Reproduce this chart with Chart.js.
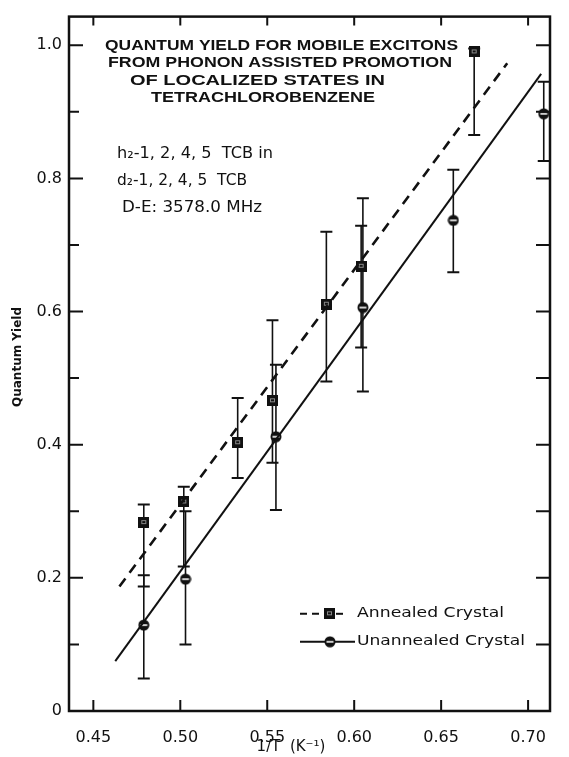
<!DOCTYPE html>
<html><head><meta charset="utf-8">
<script src="https://cdn.jsdelivr.net/npm/chart.js@4.4.1/dist/chart.umd.min.js"></script>
<style>html,body{margin:0;padding:0;background:#fff}</style>
</head><body>
<canvas id="c" width="569" height="757"></canvas>
<script>
// ---- data ----
const annealedX  = [0.479, 0.502, 0.533, 0.553, 0.584, 0.604, 0.669];
const annealedY  = [0.283, 0.314, 0.403, 0.466, 0.611, 0.668, 0.990];
const annealedLo = [0.187, 0.217, 0.350, 0.373, 0.495, 0.546, 0.865];
const annealedHi = [0.310, 0.337, 0.470, 0.587, 0.720, 0.729, 0.995];

const unannealedX  = [0.479, 0.503, 0.555, 0.605, 0.657, 0.709];
const unannealedY  = [0.129, 0.198, 0.412, 0.606, 0.737, 0.897];
const unannealedLo = [0.049, 0.100, 0.302, 0.480, 0.659, 0.826];
const unannealedHi = [0.204, 0.300, 0.520, 0.770, 0.813, 0.945];

const fitAnnealedX   = [0.465, 0.688];
const fitAnnealedY   = [0.187, 0.973];
const fitUnannealedX = [0.4626, 0.7075];
const fitUnannealedY = [0.075, 0.957];

const xTicks = [0.45, 0.50, 0.55, 0.60, 0.65, 0.70];
const yTicks = [0, 0.2, 0.4, 0.6, 0.8, 1.0];
const yMinorTicks = [0.1, 0.3, 0.5, 0.7, 0.9];
const rightTicks = [0.1, 0.2, 0.3, 0.4, 0.5, 0.6, 0.7, 0.8, 0.9, 1.0];

const titleLines = ['QUANTUM YIELD FOR MOBILE EXCITONS', 'FROM PHONON ASSISTED PROMOTION', 'OF LOCALIZED STATES IN', 'TETRACHLOROBENZENE'];
const noteLines = ['h\u2082-1, 2, 4, 5  TCB in', 'd\u2082-1, 2, 4, 5  TCB', 'D-E: 3578.0 MHz'];
const legendLabels = ['Annealed Crystal', 'Unannealed Crystal'];
const xTitle = '1/T  (K\u207B\u00B9)';
const yTitle = 'Quantum Yield';

// ---- marker images ----
function squareImg(){
  const c = document.createElement('canvas'); c.width = 11; c.height = 11;
  const g = c.getContext('2d');
  g.fillStyle = '#111'; g.fillRect(0,0,11,11);
  g.fillStyle = '#888'; g.fillRect(3,3,5,4);
  g.fillStyle = '#111'; g.fillRect(4,4,3,2);
  return c;
}
function circleImg(){
  const c = document.createElement('canvas'); c.width = 12; c.height = 12;
  const g = c.getContext('2d');
  g.fillStyle = '#111'; g.beginPath(); g.arc(6,6,5.5,0,Math.PI*2); g.fill();
  g.strokeStyle = '#fff'; g.lineWidth = 1.6; g.beginPath(); g.moveTo(2.5,6); g.lineTo(9.5,6); g.stroke();
  return c;
}
const SQ = squareImg(), CI = circleImg();

const ink = '#111';

const errorBars = {
  id: 'errorBars',
  beforeDatasetsDraw(chart){
    const {ctx, scales:{x, y}} = chart;
    ctx.save();
    ctx.strokeStyle = ink;
    const draw = (xs, lo, hi) => {
      xs.forEach((xv, i) => {
        const px = x.getPixelForValue(xv);
        const p1 = y.getPixelForValue(lo[i]), p2 = y.getPixelForValue(hi[i]);
        ctx.lineWidth = 1.6;
        ctx.beginPath(); ctx.moveTo(px, p1); ctx.lineTo(px, p2); ctx.stroke();
        ctx.lineWidth = 2;
        ctx.beginPath(); ctx.moveTo(px-6, p1); ctx.lineTo(px+6, p1);
        ctx.moveTo(px-6, p2); ctx.lineTo(px+6, p2); ctx.stroke();
      });
    };
    draw(annealedX, annealedLo, annealedHi);
    draw(unannealedX, unannealedLo, unannealedHi);
    ctx.restore();
  }
};

function fitText(ctx, text, x, y, w){
  const m = ctx.measureText(text).width;
  ctx.save();
  ctx.translate(x, y);
  ctx.scale(w / m, 1);
  ctx.fillText(text, 0, 0);
  ctx.restore();
}

const frame = {
  id: 'frame',
  afterDraw(chart){
    const {ctx, chartArea:a, scales:{x, y}} = chart;
    ctx.save();
    ctx.strokeStyle = ink; ctx.lineWidth = 2.5;
    ctx.strokeRect(a.left, a.top, a.right - a.left, a.bottom - a.top);
    ctx.lineWidth = 2;
    ctx.beginPath();
    xTicks.forEach(v => {
      const px = x.getPixelForValue(v);
      ctx.moveTo(px, a.bottom); ctx.lineTo(px, a.bottom - 11);
      ctx.moveTo(px, a.top); ctx.lineTo(px, a.top + 9);
    });
    yTicks.forEach(v => {
      const py = y.getPixelForValue(v);
      if (v > 0) { ctx.moveTo(a.left, py); ctx.lineTo(a.left + 14, py); }
    });
    yMinorTicks.forEach(v => {
      const py = y.getPixelForValue(v);
      ctx.moveTo(a.left, py); ctx.lineTo(a.left + 10, py);
    });
    rightTicks.forEach(v => {
      const py = y.getPixelForValue(v);
      ctx.moveTo(a.right, py); ctx.lineTo(a.right - 14, py);
    });
    ctx.stroke();

    // title block
    ctx.fillStyle = ink; ctx.textBaseline = 'middle'; ctx.textAlign = 'left';
    ctx.font = 'bold 15px "Liberation Sans"';
    fitText(ctx, titleLines[0], 105, 46, 353);
    ctx.font = 'bold 14px "Liberation Sans"';
    fitText(ctx, titleLines[1], 108, 63, 344);
    fitText(ctx, titleLines[2], 130, 81, 255);
    fitText(ctx, titleLines[3], 151, 98, 224);

    // notes
    ctx.font = '15px "DejaVu Sans"';
    fitText(ctx, noteLines[0], 117, 154, 156);
    fitText(ctx, noteLines[1], 117, 181, 130);
    fitText(ctx, noteLines[2], 122, 208, 140);

    // legend
    ctx.lineWidth = 2;
    let ly = y.getPixelForValue(0.146);
    ctx.setLineDash([7,5]);
    ctx.beginPath(); ctx.moveTo(300, ly); ctx.lineTo(322, ly); ctx.stroke();
    ctx.setLineDash([]);
    ctx.beginPath(); ctx.moveTo(336, ly); ctx.lineTo(343, ly); ctx.stroke();
    ctx.drawImage(SQ, 324, ly - 5.5);
    ctx.font = '14px "DejaVu Sans"';
    fitText(ctx, legendLabels[0], 357, ly, 147);
    ly = y.getPixelForValue(0.104);
    ctx.beginPath(); ctx.moveTo(300, ly); ctx.lineTo(355, ly); ctx.stroke();
    ctx.drawImage(CI, 324, ly - 6);
    fitText(ctx, legendLabels[1], 357, ly, 168);

    // axis titles
    ctx.textAlign = 'center';
    ctx.font = '15px "DejaVu Sans"';
    ctx.fillText(xTitle, 291, 747);
    ctx.save();
    ctx.translate(18, 357);
    ctx.rotate(-Math.PI / 2);
    ctx.font = 'bold 12px "DejaVu Sans"';
    ctx.fillText(yTitle, 0, 0);
    ctx.restore();
    ctx.restore();
  }
};

const tickFont = {family: 'DejaVu Sans', size: 16};

new Chart(document.getElementById('c'), {
  type: 'scatter',
  data: {
    datasets: [
      { type: 'line', data: fitAnnealedX.map((v,i)=>({x:v, y:fitAnnealedY[i]})),
        borderColor: ink, borderWidth: 2.6, borderDash: [10,7], pointRadius: 0, fill: false },
      { type: 'line', data: fitUnannealedX.map((v,i)=>({x:v, y:fitUnannealedY[i]})),
        borderColor: ink, borderWidth: 2, pointRadius: 0, fill: false },
      { data: annealedX.map((v,i)=>({x:v, y:annealedY[i]})), pointStyle: SQ, pointRadius: 5.5 },
      { data: unannealedX.map((v,i)=>({x:v, y:unannealedY[i]})), pointStyle: CI, pointRadius: 6 }
    ]
  },
  options: {
    responsive: false, animation: false, devicePixelRatio: 1,
    layout: { padding: { top: 15, right: 19, left: 0, bottom: 0 } },
    plugins: { legend: { display: false }, tooltip: { enabled: false } },
    scales: {
      x: {
        type: 'linear', min: 0.436, max: 0.7126,
        afterBuildTicks: s => { s.ticks = xTicks.map(v => ({value: v})); },
        afterFit: s => { s.height = 46; },
        grid: { display: false, drawTicks: false }, border: { display: false },
        ticks: { callback: v => v.toFixed(2), font: tickFont, color: ink, padding: 17, autoSkip: false, maxRotation: 0 },
        title: { display: false }
      },
      y: {
        type: 'linear', min: 0, max: 1.043,
        afterBuildTicks: s => { s.ticks = yTicks.map(v => ({value: v})); },
        afterFit: s => { s.width = 69; },
        grid: { display: false, drawTicks: false }, border: { display: false },
        ticks: { callback: v => v === 0 ? '0' : v.toFixed(1), font: tickFont, color: ink, padding: 7, autoSkip: false },
        title: { display: false }
      }
    }
  },
  plugins: [errorBars, frame]
});
</script>
</body></html>
